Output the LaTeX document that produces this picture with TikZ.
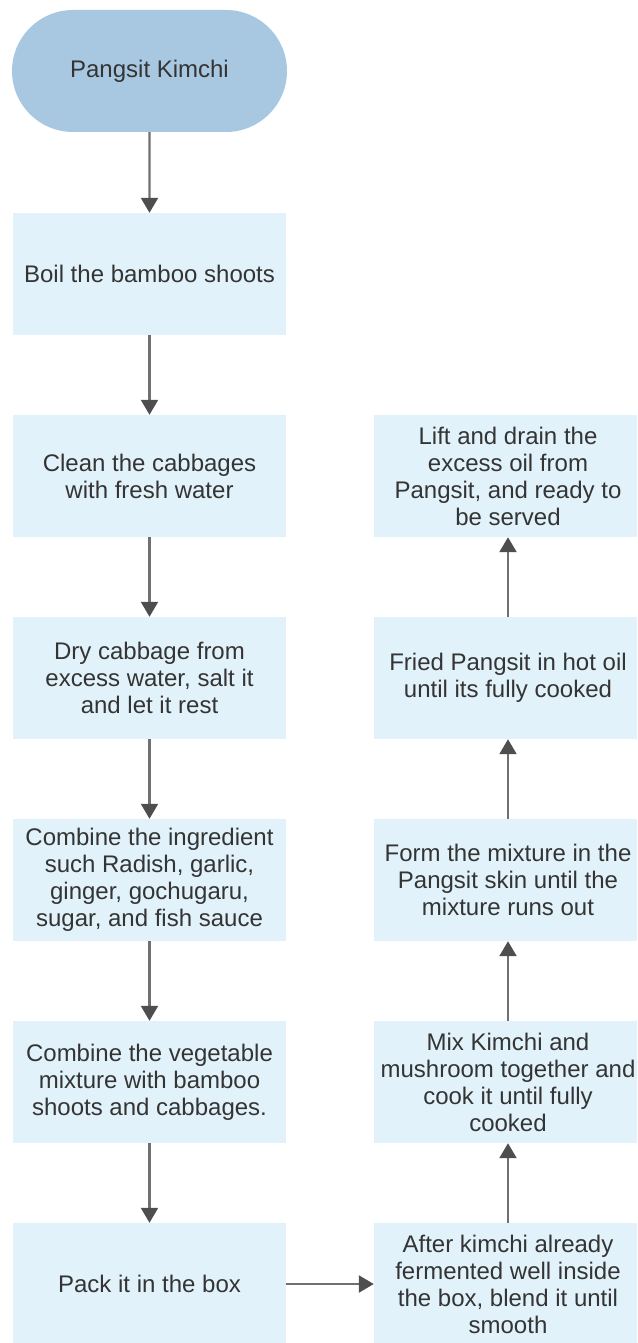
\documentclass[tikz,border=0pt]{standalone}
\usepackage{fontspec}
\setmainfont{Liberation Sans}
\usetikzlibrary{arrows.meta,shapes.misc}
\definecolor{startfill}{RGB}{168,200,226}
\definecolor{boxfill}{RGB}{226,242,250}
\definecolor{txt}{RGB}{52,52,52}
\definecolor{lineclr}{RGB}{112,112,112}
\definecolor{headclr}{RGB}{78,78,78}
\begin{document}
\begin{tikzpicture}[x=1pt,y=-1pt,
  stepbox/.style={fill=boxfill, draw=none, minimum width=273pt, minimum height=122pt,
    inner sep=0pt, align=center, text=txt, font=\fontsize{24}{27}\selectfont},
  rightbox/.style={stepbox, minimum width=268pt},
  startnode/.style={rounded rectangle, fill=startfill, draw=none, minimum width=275pt,
    minimum height=122pt, inner sep=0pt, text=txt, font=\fontsize{24}{27}\selectfont},
  arr/.style={draw=lineclr, line width=2.2pt, -{Triangle[width=17pt,length=15pt,color=headclr,fill=headclr]}}
]
\useasboundingbox (0,0) rectangle (637,1343);
\clip (0,0) rectangle (637,1343);

\node[startnode] (start) at (149.5,71) {Pangsit Kimchi};
\node[stepbox] (b1) at (149.5,274) {Boil the bamboo shoots};
\node[stepbox] (b2) at (149.5,476) {Clean the cabbages\\with fresh water};
\node[stepbox] (b3) at (149.5,678) {Dry cabbage from\\excess water, salt it\\and let it rest};
\node[stepbox] (b4) at (149.5,880) {Combine the ingredient\\such Radish, garlic,\\ginger, gochugaru,\\sugar, and fish sauce};
\node[stepbox] (b5) at (149.5,1082) {Combine the vegetable\\mixture with bamboo\\shoots and cabbages.};
\node[stepbox] (b6) at (149.5,1284) {Pack it in the box};

\node[rightbox] (r1) at (508,1284) {After kimchi already\\fermented well inside\\the box, blend it until\\smooth};
\node[rightbox] (r2) at (508,1082) {Mix Kimchi and\\mushroom together and\\cook it until fully\\cooked};
\node[rightbox] (r3) at (508,880) {Form the mixture in the\\Pangsit skin until the\\mixture runs out};
\node[rightbox] (r4) at (508,678) {Fried Pangsit in hot oil\\until its fully cooked};
\node[rightbox] (r5) at (508,476) {Lift and drain the\\excess oil from\\Pangsit, and ready to\\be served};

\draw[arr] (start) -- (b1);
\draw[arr] (b1) -- (b2);
\draw[arr] (b2) -- (b3);
\draw[arr] (b3) -- (b4);
\draw[arr] (b4) -- (b5);
\draw[arr] (b5) -- (b6);
\draw[arr] (b6) -- (r1);
\draw[arr] (r1) -- (r2);
\draw[arr] (r2) -- (r3);
\draw[arr] (r3) -- (r4);
\draw[arr] (r4) -- (r5);
\end{tikzpicture}
\end{document}
